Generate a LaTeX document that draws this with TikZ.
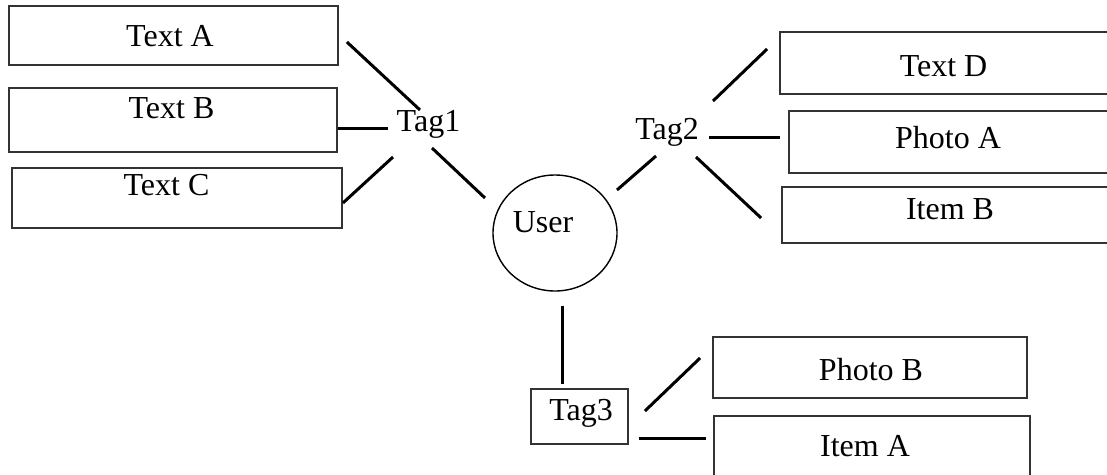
\documentclass[tikz,border=0pt]{standalone}
\usepackage{fontspec}
\setmainfont{Liberation Serif}
\usetikzlibrary{calc,shapes.geometric}

\tikzset{
  box/.style={draw=black!80, line width=1.8pt, rectangle, inner sep=0pt},
  lbl/.style={anchor=base, inner sep=0pt, font=\fontsize{32}{37}\selectfont},
  link/.style={draw=black, line width=3pt},
}

\begin{document}
\begin{tikzpicture}[x=1pt, y=-1pt]
\path[use as bounding box, clip] (0,0) rectangle (1107,474);
\fill[white] (0,0) rectangle (1107,474);

% left group
\node[box, minimum width=329pt, minimum height=59pt] (boxA) at (173.5,35.5) {};
\node[box, minimum width=328pt, minimum height=64pt] (boxB) at (173,120) {};
\node[box, minimum width=330pt, minimum height=60pt] (boxC) at (177,198) {};
\node[lbl] (txtA) at (170,46) {Text A};
\node[lbl] (txtB) at (171.5,118) {Text B};
\node[lbl] (txtC) at (166.5,195) {Text C};
\node[lbl] (tag1) at (428.5,131) {Tag1};

% centre
\node[draw=black, line width=1.4pt, ellipse, minimum width=124pt, minimum height=116pt, inner sep=0pt] (user) at (555,233) {};
\node[lbl] (usertxt) at (543,232) {User};

% right group
\node[box, minimum width=335pt, minimum height=62pt] (boxD) at (947.5,63) {};
\node[box, minimum width=326pt, minimum height=62pt] (boxPA) at (952,142) {};
\node[box, minimum width=333pt, minimum height=56pt] (boxIB) at (948.5,215) {};
\node[lbl] (txtD) at (943.5,76) {Text D};
\node[lbl] (txtPA) at (948,148) {Photo A};
\node[lbl] (txtIB) at (950,219) {Item B};
\node[lbl] (tag2) at (667,139) {Tag2};

% bottom group
\node[box, minimum width=97pt, minimum height=55pt, font=\fontsize{32}{37}\selectfont,
      text height=14pt, text depth=7pt] (tag3) at (579.5,416.5) {\hspace*{3pt}Tag3};
\node[box, minimum width=314pt, minimum height=61pt] (boxPB) at (870,367.5) {};
\node[box, minimum width=316pt, minimum height=64pt] (boxIA) at (872,448) {};
\node[lbl] (txtPB) at (871,380) {Photo B};
\node[lbl] (txtIA) at (865,456) {Item A};

% connectors
\draw[link] ($(boxA.east)+(8,6.5)$) -- ($(tag1.base)+(-8.5,-21)$);
\draw[link] ($(boxB.east)+(0,8)$) -- ($(tag1.base)+(-40.5,-3)$);
\draw[link] ($(boxC.east)+(0,5)$) -- ($(tag1.base)+(-35.5,26)$);
\draw[link] ($(tag1.base)+(3.5,17)$) -- ($(user.center)+(-70,-35)$);
\draw[link] ($(tag2.base)+(-11,17)$) -- ($(user.center)+(62,-43)$);
\draw[link] ($(tag2.base)+(46,-38)$) -- ($(boxD.west)+(-12,-14)$);
\draw[link] ($(tag2.base)+(42,-2)$) -- ($(boxPA.west)+(-8,-5)$);
\draw[link] ($(tag2.base)+(29,18)$) -- ($(boxIB.west)+(-20,3)$);
\draw[link] ($(user.south)+(7,14)$) -- ($(tag3.north)+(-17.5,-4)$);
\draw[link] ($(tag3.east)+(16,-5.5)$) -- ($(boxPB.west)+(-12,-9.5)$);
\draw[link] ($(tag3.east)+(10,21.5)$) -- ($(boxIA.west)+(-7,-10)$);
\end{tikzpicture}
\end{document}
